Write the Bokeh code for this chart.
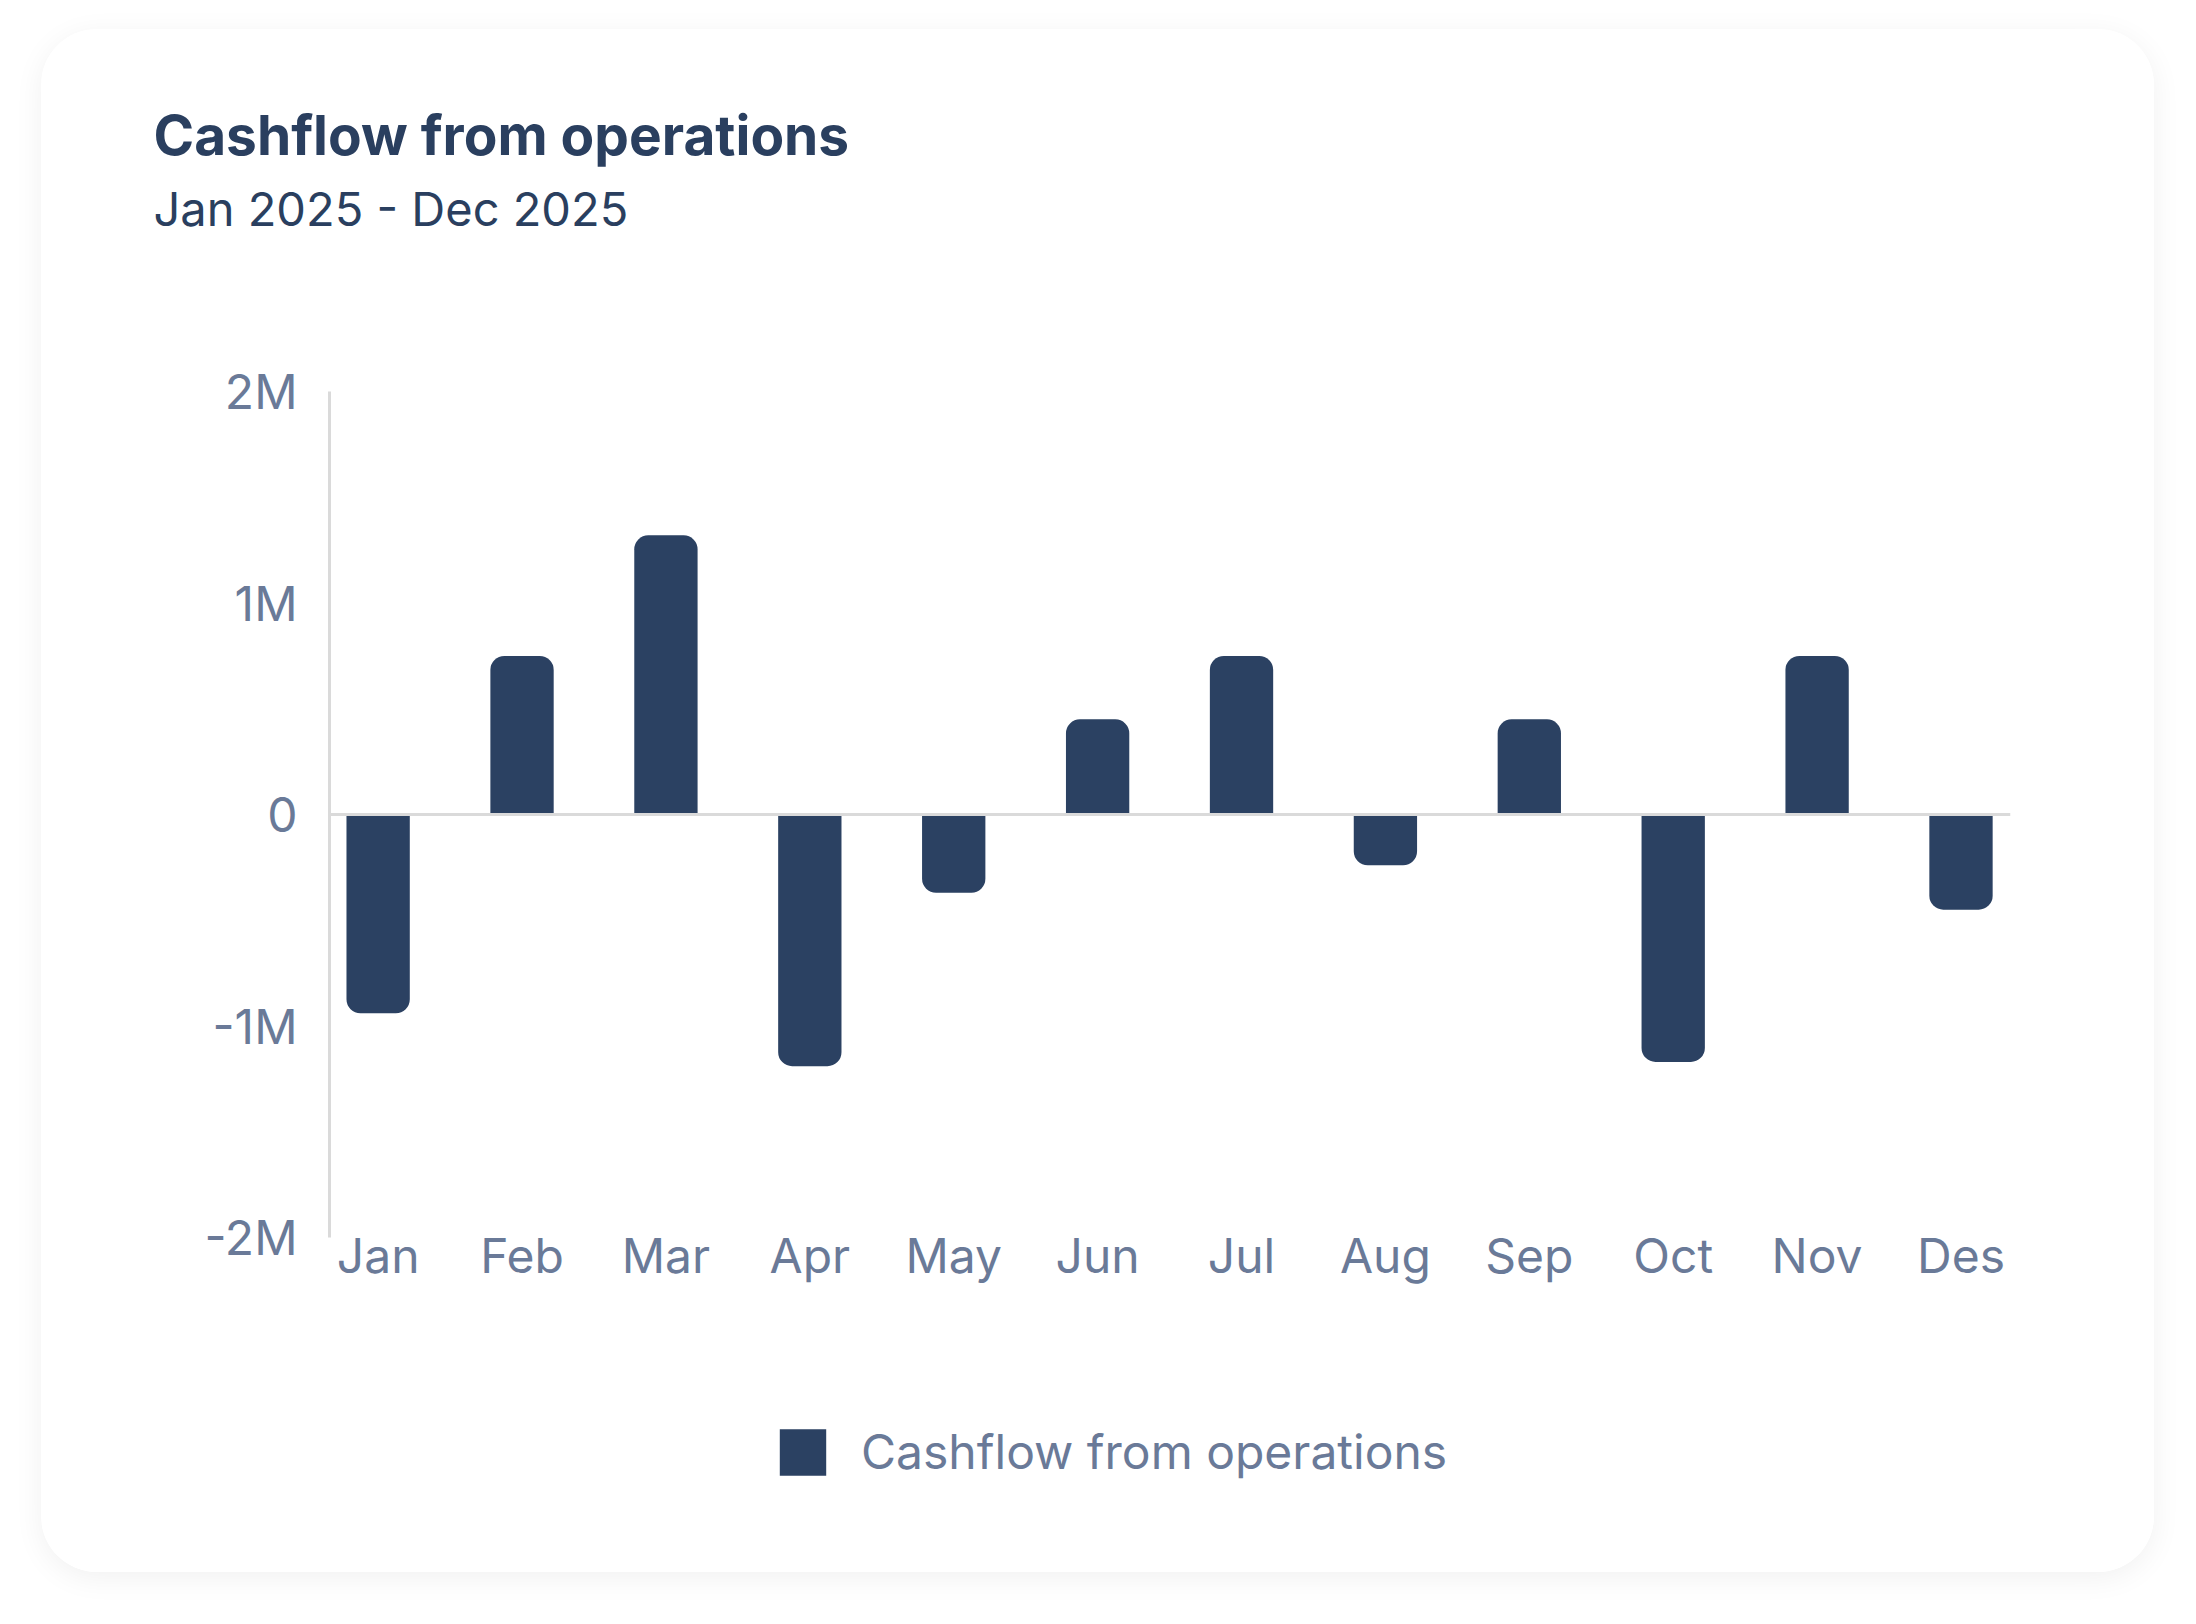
from bokeh.plotting import figure
from bokeh.models import (Range1d, FixedTicker, Span, Title, Legend, LegendItem,
                          ColumnDataSource)
from bokeh.embed import file_html
from bokeh.resources import INLINE

# ---- data ----
months = ["Jan", "Feb", "Mar", "Apr", "May", "Jun", "Jul", "Aug", "Sep", "Oct", "Nov", "Des"]
cashflow = [-940000, 750000, 1320000, -1190000, -370000, 450000,
            750000, -240000, 450000, -1170000, 750000, -450000]
y_ticks = [-2000000, -1000000, 0, 1000000, 2000000]
y_tick_labels = ["-2M", "-1M", "0", "1M", "2M"]
title_text = "Cashflow from operations"
subtitle_text = "Jan 2025 - Dec 2025"
series_name = "Cashflow from operations"

# ---- style ----
BAR = "#2B4162"
TITLE_C = "#2A3F5F"
TICK_C = "#6A7A98"
GRID_C = "#DADADA"
FONT = "Inter"

# ---- layout (px) ----
W, H = 2113, 1543
TOP = 362            # frame top (value 2M)
AXIS_BOTTOM = 1208   # pixel of value -2M
FRAME_BOTTOM = 1469  # frame extends below the axis to hold the legend
y_lo, y_hi = y_ticks[0], y_ticks[-1]
px_per_unit = (AXIS_BOTTOM - TOP) / (y_hi - y_lo)
y_start = y_lo - (FRAME_BOTTOM - AXIS_BOTTOM) / px_per_unit

idx = list(range(len(months)))
pos = ColumnDataSource(dict(x=[i for i in idx if cashflow[i] >= 0],
                            v=[cashflow[i] for i in idx if cashflow[i] >= 0]))
neg = ColumnDataSource(dict(x=[i for i in idx if cashflow[i] < 0],
                            v=[cashflow[i] for i in idx if cashflow[i] < 0]))

p = figure(width=W, height=H, title=None, output_backend="svg", toolbar_location=None,
           x_range=Range1d(-0.338, 11.344), y_range=Range1d(y_start, y_hi),
           min_border_left=288, min_border_right=144, min_border_top=TOP,
           min_border_bottom=H - FRAME_BOTTOM,
           styles={"margin-left": "41px", "margin-top": "29px", "border-radius": "56px",
                   "box-shadow": "0 6px 30px rgba(0,0,0,0.06)", "overflow": "hidden"})
p.background_fill_color = "white"
p.border_fill_color = "white"
p.outline_line_color = None
p.grid.visible = False

r_pos = p.vbar(x="x", top="v", bottom=0, width=0.44, source=pos, fill_color=BAR,
               line_color=None, border_radius=(14, 14, 0, 0))
r_neg = p.vbar(x="x", top=0, bottom="v", width=0.44, source=neg, fill_color=BAR,
               line_color=None, border_radius=(0, 0, 14, 14))

p.add_layout(Span(location=0, dimension="width", line_color=GRID_C, line_width=3), "center")

# y axis
ya = p.yaxis[0]
ya.ticker = FixedTicker(ticks=y_ticks)
ya.bounds = (y_lo, y_hi)
ya.major_label_overrides = {t: l for t, l in zip(y_ticks, y_tick_labels)}
ya.axis_line_color = GRID_C
ya.axis_line_width = 3
ya.major_tick_line_color = None
ya.minor_tick_line_color = None
ya.major_label_text_font = FONT
ya.major_label_text_font_size = "48px"
ya.major_label_text_color = TICK_C
ya.major_label_standoff = 26

# x axis, pinned at the -2M level
xa = p.xaxis[0]
xa.fixed_location = y_lo
xa.ticker = FixedTicker(ticks=idx)
xa.major_label_overrides = {i: m for i, m in zip(idx, months)}
xa.axis_line_color = None
xa.major_tick_line_color = None
xa.minor_tick_line_color = None
xa.major_label_text_font = FONT
xa.major_label_text_font_size = "48px"
xa.major_label_text_color = TICK_C
xa.major_label_standoff = -18

# titles (spacer closest to the frame, then subtitle, then main title)
p.add_layout(Title(text=" ", text_font_size="10px", standoff=137), "above")
sub = Title(text=subtitle_text, text_font=FONT, text_font_size="47px",
            text_font_style="normal", text_color=TITLE_C, align="left", offset=-176,
            standoff=10)
p.add_layout(sub, "above")
main = Title(text=title_text, text_font=FONT, text_font_size="55px",
             text_font_style="bold", text_color=TITLE_C, align="left", offset=-176,
             standoff=9)
p.add_layout(main, "above")

# legend at the bottom of the (extended) frame
legend = Legend(items=[LegendItem(label=series_name, renderers=[r_pos])],
                location="bottom_center", orientation="horizontal",
                glyph_width=58, glyph_height=58, label_height=58, label_width=705,
                label_standoff=30,
                label_text_font=FONT, label_text_font_size="48px",
                label_text_color=TICK_C, padding=0, margin=17,
                border_line_color=None, background_fill_alpha=0)
p.add_layout(legend, "center")

open("out.html", "w").write(file_html(p, INLINE))
